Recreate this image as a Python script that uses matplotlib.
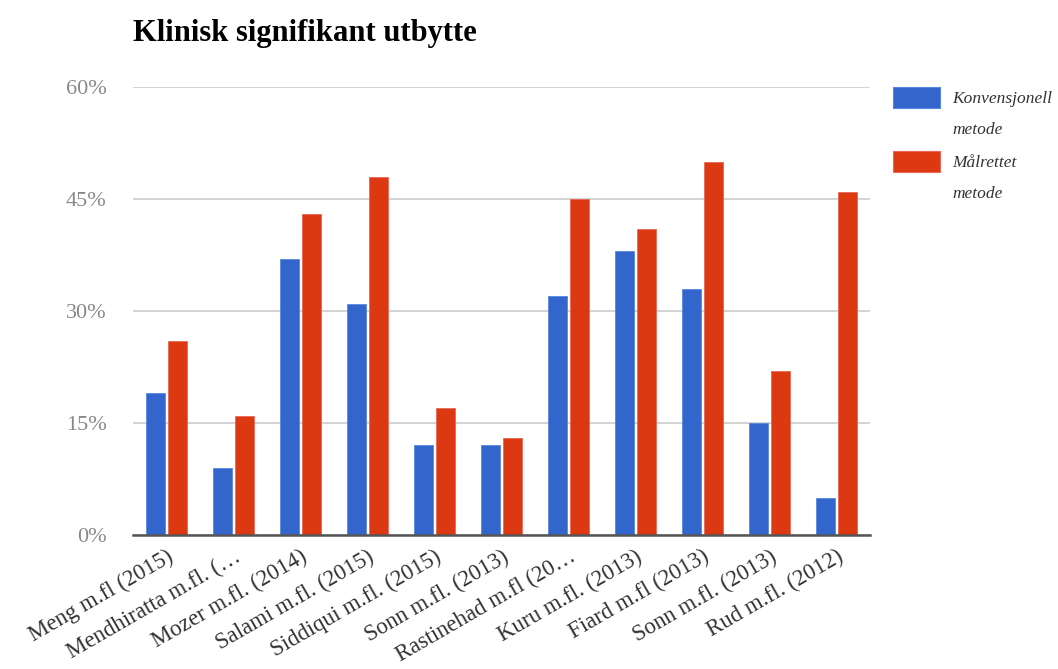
import numpy as np
import matplotlib.pyplot as plt
from matplotlib.patches import Rectangle
from matplotlib.ticker import FuncFormatter

# studies and share of clinically significant findings (%)
studies = ['Meng m.fl (2015)', 'Mendhiratta m.fl. (…', 'Mozer m.fl. (2014)',
           'Salami m.fl. (2015)', 'Siddiqui m.fl. (2015)', 'Sonn m.fl. (2013)',
           'Rastinehad m.fl (20…', 'Kuru m.fl. (2013)', 'Fiard m.fl (2013)',
           'Sonn m.fl. (2013)', 'Rud m.fl. (2012)']
konvensjonell = [19, 9, 37, 31, 12, 12, 32, 38, 33, 15, 5]
malrettet = [26, 16, 43, 48, 17, 13, 45, 41, 50, 22, 46]
yticks = [0, 15, 30, 45, 60]
series_names = [['Konvensjonell', 'metode'], ['Målrettet', 'metode']]

blue = '#3366cc'
red = '#dc3912'
edges = ['#5a86dd', '#e8685a']
serif = ['Liberation Serif', 'DejaVu Serif']
W, H = 1058, 669

fig = plt.figure(figsize=(W / 100, H / 100), dpi=100)
ax = fig.add_axes([133 / W, 1 - 535 / H, 737 / W, 448 / H])

x = np.arange(len(studies))
w = 0.29
ax.bar(x - w / 2 - 0.015, konvensjonell, w, color=blue, edgecolor=edges[0], linewidth=0.6)
ax.bar(x + w / 2 + 0.015, malrettet, w, color=red, edgecolor=edges[1], linewidth=0.6)

ax.set_xlim(-0.5, len(studies) - 0.5)
ax.set_ylim(0, 60)
ax.set_yticks(yticks)
ax.yaxis.set_major_formatter(FuncFormatter(lambda v, _: f'{v:.0f}%'))
ax.grid(axis='y', color='#cccccc', linewidth=1.2)
ax.set_axisbelow(True)
for side in ['top', 'right', 'left']:
    ax.spines[side].set_visible(False)
ax.spines['bottom'].set_color('#555555')
ax.spines['bottom'].set_linewidth(1.8)
ax.spines['bottom'].set_zorder(5)

ax.set_xticks(x)
ax.set_xticklabels(studies, rotation=30, ha='right', rotation_mode='anchor',
                   fontsize=16.5, family=serif, color='#333333')
ax.tick_params(axis='x', length=0, pad=8)
ax.tick_params(axis='y', length=0, pad=19, labelsize=16, labelcolor='#888888')
for lbl in ax.get_yticklabels():
    lbl.set_family(serif)

fig.text(133 / W, 1 - 34 / H, 'Klinisk signifikant utbytte', fontsize=22,
         fontweight='bold', family=serif, color='#000000', va='center')

# legend: colour swatch plus two-line italic label
for i, (col, name) in enumerate(zip([blue, red], series_names)):
    top = 87 + i * 64
    fig.patches.append(Rectangle((893 / W, 1 - (top + 21) / H), 47 / W, 21 / H,
                                 transform=fig.transFigure, facecolor=col,
                                 edgecolor=edges[i], linewidth=0.8))
    for j, line in enumerate(name):
        fig.text(952 / W, 1 - (top + 12 + j * 31) / H, line, fontsize=12.5,
                 style='italic', family=serif, color='#333333', va='center')

fig.savefig('out.png', dpi=100)
